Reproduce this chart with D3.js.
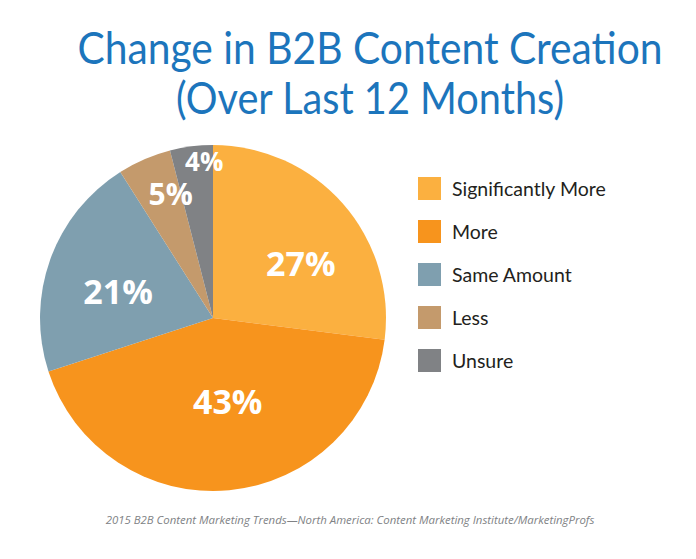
<!DOCTYPE html>
<html><head><meta charset="utf-8">
<script src="https://cdn.jsdelivr.net/npm/d3@7"></script>
<style>body{margin:0;background:#fff;}svg{display:block;}</style>
</head><body>
<svg id="chart" width="696" height="559"></svg>
<script>
const categories = ["Significantly More", "More", "Same Amount", "Less", "Unsure"];
const values = [27, 43, 21, 5, 4];
const colors = ["#FBB040", "#F7941D", "#7F9FAF", "#C49A6C", "#808285"];
const titleLines = ["Change in B2B Content Creation", "(Over Last 12 Months)"];
const source = "2015 B2B Content Marketing Trends\u2014North America: Content Marketing Institute/MarketingProfs";

const svg = d3.select("#chart");
const cx = 213, cy = 318, R = 173;

const titleWidths = [585, 388];
svg.selectAll("text.title").data(titleLines).join("text")
  .attr("class","title")
  .attr("transform", (d,i)=>`translate(370,${64 + i*50}) scale(1,1.1)`)
  .attr("x", 0).attr("y", 0)
  .attr("text-anchor","middle")
  .attr("font-family","Lato, 'Noto Sans', sans-serif")
  .attr("font-size", 40)
  .attr("textLength", (d,i)=>titleWidths[i])
  .attr("lengthAdjust","spacingAndGlyphs")
  .attr("fill","#1C75BC")
  .text(d=>d);

const pie = d3.pie().sort(null).value(d=>d.v);
const data = pie(values.map((v,i)=>({v, c:categories[i], col:colors[i]})));
const arc = d3.arc().innerRadius(0).outerRadius(R);
const g = svg.append("g").attr("transform",`translate(${cx},${cy})`);
g.selectAll("path").data(data).join("path")
  .attr("d", arc).attr("fill", d=>d.data.col);

// label placement style: [radius factor, angle shift (rad)]
const labelStyle = [[0.6,0.16],[0.49,-0.08],[0.57,-0.07],[0.76,0.08],[0.91,0.07]];
g.selectAll("text").data(data).join("text")
  .attr("transform", (d,i)=>{
    const a=(d.startAngle+d.endAngle)/2 + labelStyle[i][1], r=R*labelStyle[i][0];
    return `translate(${r*Math.sin(a)},${-r*Math.cos(a)})`;
  })
  .attr("text-anchor","middle").attr("dominant-baseline","central")
  .attr("font-family","'Open Sans', sans-serif").attr("font-weight","bold")
  .attr("font-size", d=>d.data.v>=20?34:(d.data.v>=5?30:26))
  .attr("fill","#fff")
  .text(d=>d.data.v+"%");

const lg = svg.append("g").attr("transform","translate(418,177)");
const items = lg.selectAll("g").data(categories).join("g")
  .attr("transform",(d,i)=>`translate(0,${i*43})`);
items.append("rect").attr("width",23).attr("height",23).attr("fill",(d,i)=>colors[i]);
items.append("text").attr("x",34).attr("y",11).attr("dominant-baseline","central")
  .attr("font-family","'Source Sans Pro', Lato, 'Noto Sans', sans-serif")
  .attr("font-size",19.5).attr("fill","#231F20").text(d=>d);

svg.append("text").attr("x",350).attr("y",524).attr("text-anchor","middle")
  .attr("font-family","'Open Sans', sans-serif").attr("font-style","italic")
  .attr("font-size",11.4).attr("fill","#808285").text(source);
</script>
</body></html>
